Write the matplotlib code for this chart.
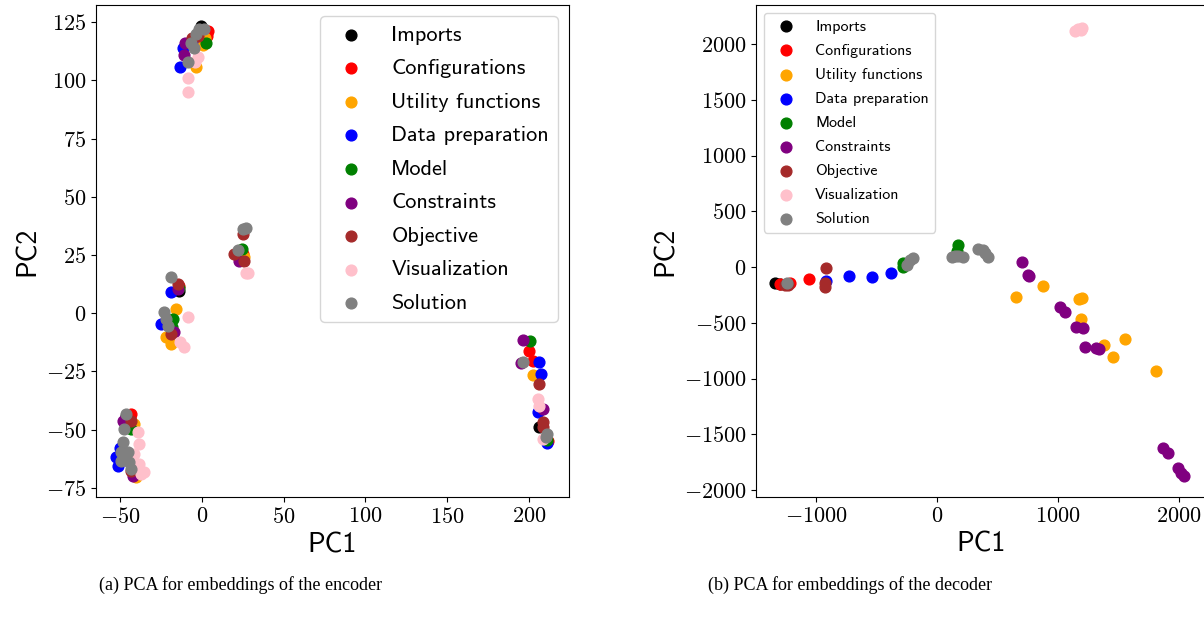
import matplotlib
matplotlib.use("Agg")
import matplotlib.pyplot as plt
import numpy as np

plt.rcParams['font.family'] = 'cmr10'
plt.rcParams['mathtext.fontset'] = 'cm'
plt.rcParams['axes.formatter.use_mathtext'] = True
plt.rcParams['font.size'] = 16

labels = ['Imports', 'Configurations', 'Utility functions', 'Data preparation',
          'Model', 'Constraints', 'Objective', 'Visualization', 'Solution']
colors = ['black', 'red', 'orange', 'blue', 'green', 'purple', 'brown', 'pink', 'gray']

# encoder PCA points (PC1, PC2) per cell type
enc_imports = [(-0.5, 123.5), (-14, 9.4), (24, 26), (-46, -44), (206, -49), (211, -55)]
enc_config = [(4, 121), (3, 119), (-14, 11.8), (25, 25.3), (-43, -43.3), (-44, -45),
              (200, -16.3), (202.4, -20.6), (211.6, -55)]
enc_utility = [(1, 115), (-3.7, 105.6), (2, 118), (-16, 1.7), (-22, -10), (-19, -13.3),
               (26, 24), (-41.5, -47.6), (-40, -70.4), (202.4, -26.6)]
enc_data = [(-11.6, 114), (-13, 105.6), (-6, 117), (-19, 9), (-25, -4.7), (-52.4, -61.8),
            (-51, -65.7), (-50, -58), (206, -21), (207.3, -26.2), (205.5, -42.5), (211, -55.5)]
enc_model = [(2.4, 116), (-13.6, 11), (-17.7, -2.6), (-18, -6), (24.4, 27.5), (-43, -49.8),
             (200.6, -12), (211, -54.5)]
enc_constr = [(-11, 111), (-10, 116), (-14.5, 10.5), (-17, -8.2), (23, 22.3), (-48, -46.4),
              (-42, -70), (196.4, -11.6), (195, -21.5), (208.5, -41.2)]
enc_objective = [(-2, 119), (-6, 118), (-14.6, 12.4), (-19, -9), (25, 34), (19.5, 25.3),
                 (25.6, 22.3), (-43, -46.4), (-43, -67.8), (206, -30.5), (208.5, -46.8),
                 (208.5, -49)]
enc_visual = [(-2.4, 110), (-8.5, 101), (-8.5, 95), (-4, 108), (-8.5, -1.7), (-13, -12.4),
              (-11, -14.6), (26.8, 17.2), (28, 17.2), (-39, -51), (-38.4, -56.2),
              (-41.5, -60.5), (-38.4, -64.8), (-35.4, -68.2), (-37, -69), (205.5, -37),
              (206, -40), (208.5, -54)]
enc_solution = [(-1.8, 122), (1.2, 122), (-3.7, 119.7), (-6.7, 116), (-5, 114), (-8.5, 108),
                (-19, 15.5), (-23, 0.4), (-22, -2.6), (-20.7, -5.6), (26.8, 36.5), (25, 36),
                (22, 27), (-46.3, -43.3), (-47.6, -49.8), (-48, -55.4), (-49.4, -59.7),
                (-45, -59.7), (-49.4, -63.5), (-44.5, -64), (-43, -67), (196.4, -21),
                (211, -52), (210.4, -53)]

# decoder PCA points
dec_imports = [(-1345, -144), (-1300, -150)]
dec_config = [(-1303, -152), (-1220, -144), (-1062, -108)]
dec_utility = [(871, -170), (647, -269), (1170, -287), (1195, -278), (1187, -466),
               (1378, -700), (1453, -807), (1552, -646), (1809, -933)]
dec_data = [(-921, -126), (-730, -81), (-540, -90), (-382, -54)]
dec_model = [(-1240, -150), (-282, 36), (-282, 0), (174, 197), (166, 144)]
dec_constr = [(697, 45), (747, -72), (755, -81), (1013, -359), (1054, -404), (1145, -538),
              (1204, -547), (1220, -718), (1311, -727), (1336, -736), (1868, -1624),
              (1909, -1668), (1992, -1803), (2017, -1848), (2042, -1875)]
dec_objective = [(-1237, -161), (-1262, -161), (-921, -9), (-930, -144), (-930, -179)]
dec_visual = [(1140, 2120), (1160, 2135), (1185, 2130), (1200, 2140)]
dec_solution = [(-1245, -144), (-249, 18), (-224, 63), (-199, 81), (125, 90), (150, 100),
                (174, 99), (216, 90), (340, 161), (382, 152), (423, 90), (398, 126)]

enc = [enc_imports, enc_config, enc_utility, enc_data, enc_model, enc_constr,
       enc_objective, enc_visual, enc_solution]
dec = [dec_imports, dec_config, dec_utility, dec_data, dec_model, dec_constr,
       dec_objective, dec_visual, dec_solution]

fig = plt.figure(figsize=(12.04, 6.27), dpi=100)
ax1 = fig.add_axes([0.0797, 0.2073, 0.3929, 0.7847])
ax2 = fig.add_axes([0.628, 0.2073, 0.374, 0.7847])

for ax, groups in [(ax1, enc), (ax2, dec)]:
    for pts, lab, col in zip(groups, labels, colors):
        p = np.array(pts)
        ax.scatter(p[:, 0], p[:, 1], s=60, color=col, label=lab)
    ax.set_xlabel('PC1', fontfamily='cmss10', fontsize=20)
    ax.set_ylabel('PC2', fontfamily='cmss10', fontsize=20)

ax1.set_xlim(-64.6, 224.4)
ax1.set_ylim(-78.9, 132.3)
ax1.set_xticks([-50, 0, 50, 100, 150, 200])
ax1.set_yticks([-75, -50, -25, 0, 25, 50, 75, 100, 125])
ax2.set_xlim(-1498, 2225)
ax2.set_ylim(-2063, 2350)
ax2.set_xticks([-1000, 0, 1000, 2000])
ax2.set_yticks(np.arange(-2000, 2001, 500))

ax1.legend(loc='upper right', prop={'family': 'cmss10', 'size': 16}, labelspacing=0.63)
ax2.legend(loc='upper left', prop={'family': 'cmss10', 'size': 11.5}, labelspacing=0.62)

fig.text(0.2, 0.067, '(a) PCA for embeddings of the encoder', ha='center', va='center',
         fontfamily='Liberation Serif', fontsize=13)
fig.text(0.706, 0.067, '(b) PCA for embeddings of the decoder', ha='center', va='center',
         fontfamily='Liberation Serif', fontsize=13)

fig.savefig('out.png', dpi=100)
